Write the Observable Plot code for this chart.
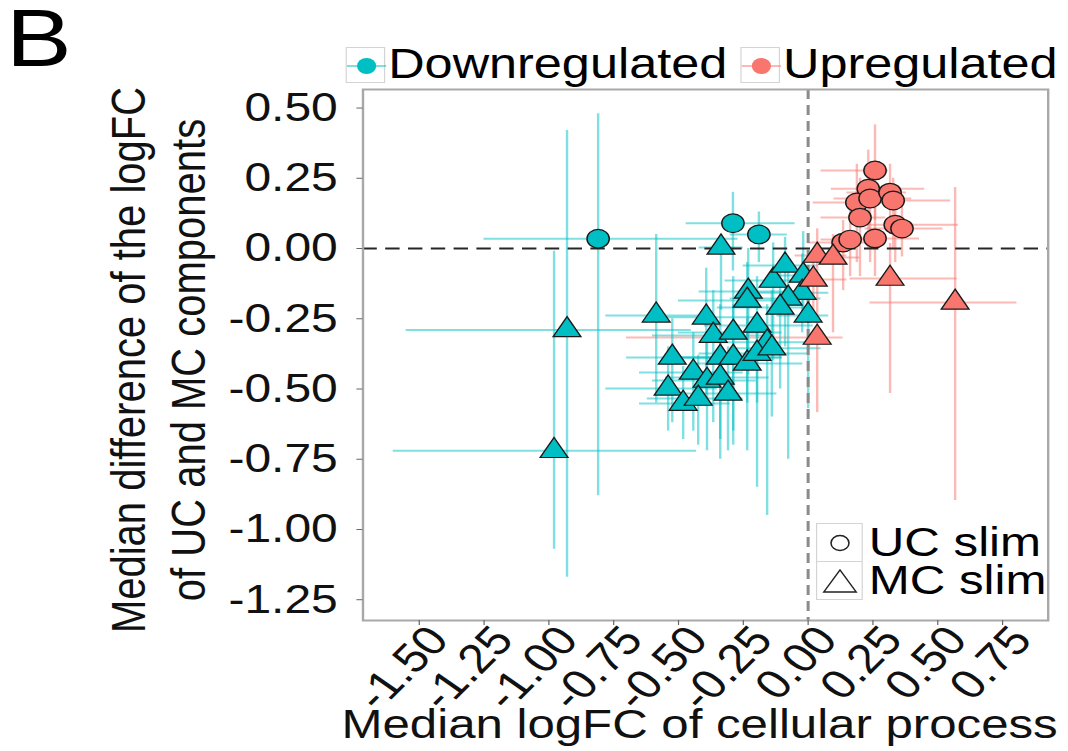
<!DOCTYPE html>
<html><head><meta charset="utf-8">
<script src="https://cdn.jsdelivr.net/npm/d3@7"></script>
<script src="https://cdn.jsdelivr.net/npm/@observablehq/plot@0.6"></script>
<style>
body{margin:0;background:#fff;}
#wrap{position:relative;width:890px;height:751px;transform:scaleX(1.2);transform-origin:0 0;font-family:"Liberation Sans",Arial,sans-serif;color:#000;}
#wrap svg{position:absolute;left:0;top:0;}
.lab{position:absolute;white-space:nowrap;}
.key{position:absolute;box-sizing:border-box;border:1px solid #d4d4d4;background:#fff;}
.key svg{position:absolute;left:0;top:0;}
</style></head><body>
<div id="wrap"></div>
<script>
// ---- data ----
const direction = [
  "Downregulated","Downregulated","Downregulated",
  ...Array(31).fill("Downregulated"),
  ...Array(12).fill("Upregulated"),
  ...Array(6).fill("Upregulated")
];
const component = [
  "UC slim","UC slim","UC slim",
  ...Array(31).fill("MC slim"),
  ...Array(12).fill("UC slim"),
  ...Array(6).fill("MC slim")
];
const medianLogFC = [
  -0.81, -0.29, -0.19,
  -0.336, -0.93, -0.98, -0.586, -0.393, -0.231, -0.235, -0.135, -0.089, -0.019, -0.023, -0.077, -0.108, 0.0,
  -0.366, -0.289, -0.197, -0.158, -0.339, -0.524, -0.443, -0.39, -0.339, -0.289, -0.235, -0.197, -0.54, -0.482, -0.424, -0.309, -0.14,
  0.258, 0.232, 0.188, 0.239, 0.316, 0.328, 0.20, 0.336, 0.362, 0.258, 0.135, 0.162,
  0.035, 0.096, 0.316, 0.567, 0.035, 0.02
];
const medianDiff = [
  0.035, 0.09, 0.05,
  0.004, -0.29, -0.72, -0.238, -0.245, -0.153, -0.185, -0.114, -0.06, -0.096, -0.157, -0.178, -0.21, -0.238,
  -0.31, -0.299, -0.274, -0.334, -0.388, -0.388, -0.441, -0.47, -0.459, -0.388, -0.409, -0.374, -0.498, -0.552, -0.534, -0.516, -0.355,
  0.278, 0.213, 0.164, 0.178, 0.199, 0.171, 0.11, 0.085, 0.071, 0.036, 0.021, 0.032,
  -0.025, -0.032, -0.107, -0.192, -0.317, -0.11
];
const logFCLow = [
  -1.25, -0.47, -0.30,
  -0.42, -1.55, -1.60, -0.78, -0.60, -0.42, -0.50, -0.32, -0.25, -0.15, -0.20, -0.30, -0.35, -0.12,
  -0.60, -0.50, -0.40, -0.35, -0.55, -0.70, -0.65, -0.60, -0.55, -0.50, -0.45, -0.42, -0.78, -0.65, -0.62, -0.50, -0.30,
  0.05, 0.09, 0.02, 0.10, 0.15, 0.20, 0.05, 0.20, 0.22, 0.10, 0.00, 0.05,
  -0.05, 0.00, 0.162, 0.239, -0.70, -0.06
];
const logFCHigh = [
  -0.27, -0.05, -0.08,
  -0.25, -0.45, -0.43, -0.36, -0.20, -0.05, -0.08, 0.02, 0.04, 0.05, 0.08, 0.05, 0.00, 0.08,
  -0.15, -0.10, 0.02, 0.03, -0.10, -0.35, -0.25, -0.20, -0.15, -0.10, -0.02, 0.00, -0.35, -0.30, -0.25, -0.12, 0.05,
  0.31, 0.45, 0.35, 0.40, 0.38, 0.55, 0.30, 0.58, 0.52, 0.43, 0.25, 0.30,
  0.15, 0.20, 0.575, 0.806, 0.135, 0.15
];
const diffLow = [
  -0.88, -0.08, -0.05,
  -0.22, -1.17, -1.07, -0.55, -0.52, -0.45, -0.55, -0.40, -0.35, -0.25, -0.30, -0.75, -0.50, -0.57,
  -0.62, -0.65, -0.55, -0.95, -0.68, -0.62, -0.65, -0.72, -0.75, -0.70, -0.72, -0.85, -0.65, -0.68, -0.70, -0.72, -0.60,
  0.10, 0.00, -0.05, -0.05, 0.05, 0.00, -0.10, -0.05, -0.03, -0.10, -0.15, -0.10,
  -0.20, -0.30, -0.516, -0.897, -0.584, -0.25
];
const diffHigh = [
  0.48, 0.20, 0.13,
  0.05, 0.42, -0.01, 0.05, -0.07, 0.00, -0.05, 0.02, 0.04, 0.06, -0.02, -0.05, -0.05, -0.13,
  -0.15, -0.10, -0.10, -0.20, -0.20, -0.25, -0.30, -0.30, -0.30, -0.20, -0.25, -0.25, -0.35, -0.42, -0.38, -0.35, -0.15,
  0.44, 0.35, 0.30, 0.30, 0.30, 0.25, 0.25, 0.20, 0.15, 0.20, 0.10, 0.15,
  0.07, 0.05, 0.018, 0.217, -0.20, -0.02
];
const xTicks = [-1.5, -1.25, -1.0, -0.75, -0.5, -0.25, 0, 0.25, 0.5, 0.75];
const yTicks = [-1.25, -1.0, -0.75, -0.5, -0.25, 0, 0.25, 0.5];
const groups = ["Downregulated", "Upregulated"];
const groupColors = ["#00BFC4", "#F8766D"];
const shapes = ["UC slim", "MC slim"];
const xTitle = "Median logFC of cellular process";
const yTitle = "Median difference of the logFC\nof UC and MC components";
const panelLabel = "B";

const rows = direction.map((d, i) => ({
  dir: d, comp: component[i], x: medianLogFC[i], y: medianDiff[i],
  x1: logFCLow[i], x2: logFCHigh[i], y1: diffLow[i], y2: diffHigh[i]
}));

const fmt = d => d.toFixed(2);
const FONT = "'Liberation Sans', Arial, sans-serif";

const chart = Plot.plot({
  width: 890, height: 751,
  marginLeft: 302, marginRight: 17, marginTop: 89, marginBottom: 131,
  x: {domain: [-1.717, 0.926], label: null, axis: null},
  y: {domain: [-1.324, 0.566], label: null, axis: null},
  color: {domain: groups, range: groupColors},
  symbol: {domain: shapes, range: ["circle", "triangle"]},
  r: {type: "identity"},
  style: {fontFamily: FONT, background: "transparent", overflow: "visible", color: "#111"},
  marks: [
    Plot.ruleY(rows, {y: "y", x1: "x1", x2: "x2", stroke: "dir", strokeOpacity: 0.5, strokeWidth: 2}),
    Plot.ruleX(rows, {x: "x", y1: "y1", y2: "y2", stroke: "dir", strokeOpacity: 0.5, strokeWidth: 2}),
    Plot.ruleY([0], {stroke: "#262626", strokeWidth: 2, strokeDasharray: "12,7"}),
    Plot.ruleX([0], {stroke: "#8a8a8a", strokeWidth: 2.5, strokeDasharray: "10,6"}),
    Plot.dot(rows, {x: "x", y: "y", fill: "dir", symbol: "comp",
      r: d => d.comp === "UC slim" ? 9.3 : 8.6, stroke: "#1a1a1a", strokeWidth: 1.2, fillOpacity: 1}),
    Plot.frame({stroke: "#a8a8a8", strokeWidth: 2}),
    Plot.axisY(yTicks, {tickFormat: fmt, tickSize: 5, tickPadding: 16, stroke: "#666", fill: "#111", fontSize: 40, label: null}),
    Plot.axisX(xTicks, {tickFormat: () => "", tickSize: 5, stroke: "#666", label: null}),
    Plot.text(xTicks, {x: d => d, frameAnchor: "bottom", text: fmt, rotate: -50, textAnchor: "end",
      lineAnchor: "middle", dx: 16, dy: 12, fontSize: 41, fill: "#111"}),
    Plot.text([xTitle], {frameAnchor: "bottom", textAnchor: "middle", lineAnchor: "middle", dy: 104, dx: -5, fontSize: 41, fill: "#111"}),
    Plot.text([yTitle], {frameAnchor: "left", textAnchor: "middle", lineAnchor: "middle", rotate: -90, dx: -173, dy: 5, fontSize: 40, lineHeight: 1.25, fill: "#111"})
  ]
});

const wrap = document.getElementById("wrap");
wrap.appendChild(chart);

function add(html) { wrap.insertAdjacentHTML("beforeend", html); }

// panel label
add(`<div class="lab" style="left:5px;top:3px;font-size:82px;line-height:0.85;">${panelLabel}</div>`);

// colour legend (top)
const legLeft = [287.5, 616.5];
groups.forEach((g, i) => {
  add(`<div class="key" style="left:${legLeft[i]}px;top:47px;width:33px;height:36px;">
    <svg width="33" height="36"><line x1="0" x2="33" y1="18" y2="18" stroke="${groupColors[i]}" stroke-opacity="0.5" stroke-width="2"/>
    <circle cx="16.5" cy="18" r="8" fill="${groupColors[i]}"/></svg></div>`);
  add(`<div class="lab" style="left:${legLeft[i] + 36}px;top:47px;font-size:42px;line-height:0.8;">${g}</div>`);
});

// shape legend (inside panel, bottom right)
const shpTop = [523, 561];
shapes.forEach((s, i) => {
  const glyph = i === 0
    ? `<circle cx="19" cy="19" r="7.5" fill="none" stroke="#222" stroke-width="1.3"/>`
    : `<path d="M5.5,30 L32.5,30 L19,8 Z" fill="none" stroke="#222" stroke-width="1.3"/>`;
  add(`<div class="key" style="left:680px;top:${shpTop[i]}px;width:39px;height:39px;"><svg width="39" height="39">${glyph}</svg></div>`);
  add(`<div class="lab" style="left:724px;top:${shpTop[i] + 3}px;font-size:41px;line-height:0.8;">${s}</div>`);
});
</script>
</body></html>
